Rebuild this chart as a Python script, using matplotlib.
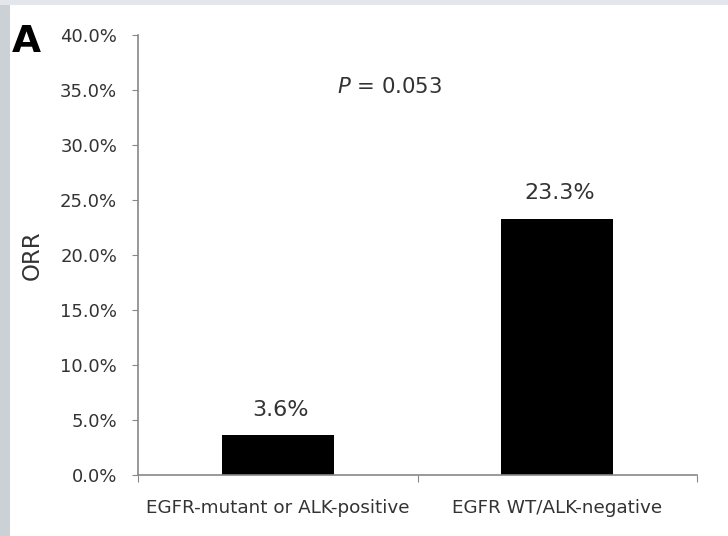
import matplotlib.pyplot as plt
from matplotlib.patches import Rectangle
from matplotlib.ticker import FuncFormatter

# data
groups = ['EGFR-mutant or ALK-positive', 'EGFR WT/ALK-negative']
orr = [3.6, 23.3]
bar_labels = ['3.6%', '23.3%']
p_text = '$\\it{P}$ = 0.053'

plt.rcParams['font.family'] = ['DejaVu Sans']
plt.rcParams['mathtext.fontset'] = 'dejavusans'

fig = plt.figure(figsize=(7.28, 5.36), dpi=100, facecolor='white')
# grey page border (left and top strips)
fig.patches.append(Rectangle((0, 0), 10 / 728, 1, transform=fig.transFigure,
                             facecolor='#ccd1d6', edgecolor='none', zorder=0))
fig.patches.append(Rectangle((0, 1 - 5 / 536), 1, 5 / 536, transform=fig.transFigure,
                             facecolor='#e3e6ea', edgecolor='none', zorder=0))

ax = fig.add_axes([138 / 728, 1 - 475 / 536, (697 - 138) / 728, (475 - 35) / 536])

x = [0, 1]
ax.bar(x, orr, width=0.4, color='black')
ax.set_xlim(-0.5, 1.5)
ax.set_ylim(0, 40)
ax.set_yticks(range(0, 41, 5))
ax.yaxis.set_major_formatter(FuncFormatter(lambda v, pos: f'{v:.1f}%'))

for xi, v, lab in zip(x, orr, bar_labels):
    ax.text(xi + 0.01, v + 1.4, lab, ha='center', va='bottom', fontsize=16, color='#333333')

ax.text(0.4, 35.3, p_text, ha='center', va='center', fontsize=15.3, color='#333333')

ax.set_xticks([-0.5, 0.5, 1.5])
ax.set_xticklabels([])
ax.set_xticks(x, minor=True)
ax.set_xticklabels(groups, minor=True, fontsize=13.2, color='#333333')
ax.tick_params(axis='x', which='minor', length=0, pad=17)
ax.tick_params(axis='x', which='major', length=5, color='#888888', direction='out')
ax.tick_params(axis='y', length=4, color='#888888', labelsize=13, labelcolor='#333333', pad=11)

for s in ['top', 'right']:
    ax.spines[s].set_visible(False)
for s in ['left', 'bottom']:
    ax.spines[s].set_color('#888888')
    ax.spines[s].set_linewidth(1.2)

ax.set_ylabel('ORR', fontsize=16.5, color='#333333', labelpad=12)
fig.text(12 / 728, 1 - 42 / 536, 'A', fontsize=27, fontweight='bold', va='center', ha='left')

fig.savefig('out.png', dpi=100, facecolor=fig.get_facecolor())
